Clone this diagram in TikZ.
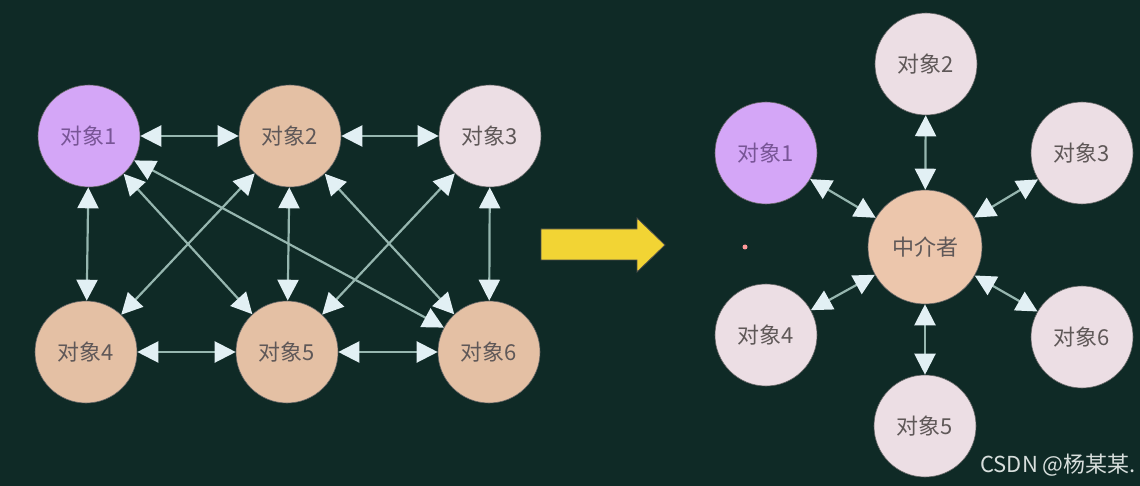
\documentclass[tikz,border=0pt]{standalone}
\usepackage{fontspec}
\newfontfamily\cjk{Noto Sans CJK SC}
\usetikzlibrary{arrows.meta}
\definecolor{bg}{RGB}{15,42,38}
\definecolor{purp}{RGB}{212,166,247}
\definecolor{tan}{RGB}{228,192,164}
\definecolor{light}{RGB}{236,222,228}
\definecolor{medi}{RGB}{236,198,172}
\definecolor{edgec}{RGB}{150,182,175}
\definecolor{tipc}{RGB}{226,240,244}
\definecolor{txt}{RGB}{95,88,88}
\definecolor{ptxt}{RGB}{120,85,150}
\definecolor{yel}{RGB}{242,212,52}
\definecolor{wm}{RGB}{215,222,220}
\tikzset{
  obj/.style={circle, minimum size=102pt, inner sep=0pt, draw=black!60, line width=0.6pt, font=\cjk\fontsize{22}{22}\selectfont, text=txt},
  big/.style={obj, minimum size=114pt},
  link/.style={draw=edgec, line width=2.2pt, {Triangle[length=21pt,width=21pt,color=tipc]}-{Triangle[length=21pt,width=21pt,color=tipc]}}
}
\begin{document}
\begin{tikzpicture}[x=1pt,y=-1pt]
\fill[bg] (0,0) rectangle (1140,486);
\useasboundingbox (0,0) rectangle (1140,486);
% left graph
\node[obj, fill=purp, text=ptxt] (a1) at (89,136) {对象1};
\node[obj, fill=tan] (a2) at (290,136) {对象2};
\node[obj, fill=light] (a3) at (490,136) {对象3};
\node[obj, fill=tan] (a4) at (86,352) {对象4};
\node[obj, fill=tan] (a5) at (287,352) {对象5};
\node[obj, fill=tan] (a6) at (489,352) {对象6};
\draw[link] (a1) -- (a2);
\draw[link] (a2) -- (a3);
\draw[link] (a4) -- (a5);
\draw[link] (a5) -- (a6);
\draw[link] (a1) -- (a4);
\draw[link] (a2) -- (a5);
\draw[link] (a3) -- (a6);
\draw[link] (a1) -- (a5);
\draw[link] (a1) -- (a6);
\draw[link] (a2) -- (a4);
\draw[link] (a2) -- (a6);
\draw[link] (a3) -- (a5);
% yellow arrow
\filldraw[fill=yel, draw=black!70, line width=0.8pt] (541,229) -- (637,229) -- (637,218) -- (665,245) -- (637,272) -- (637,260) -- (541,260) -- cycle;
% right graph
\node[big, fill=medi] (m) at (925,247) {中介者};
\node[obj, fill=purp, text=ptxt] (b1) at (766,153) {对象1};
\node[obj, fill=light] (b2) at (926,64) {对象2};
\node[obj, fill=light] (b3) at (1082,153) {对象3};
\node[obj, fill=light] (b4) at (766,335) {对象4};
\node[obj, fill=light] (b5) at (925,426) {对象5};
\node[obj, fill=light] (b6) at (1082,337) {对象6};
\foreach \b in {b1,b2,b3,b4,b5,b6} \draw[link] (m) -- (\b);
\fill[pink!80!red] (745,247) circle (2.5pt);
% watermark
\node[anchor=east, text=wm, font=\cjk\fontsize{22}{22}\selectfont, inner sep=0pt] (wmk) at (1136,465) {CSDN @杨某某.};
\end{tikzpicture}
\end{document}
